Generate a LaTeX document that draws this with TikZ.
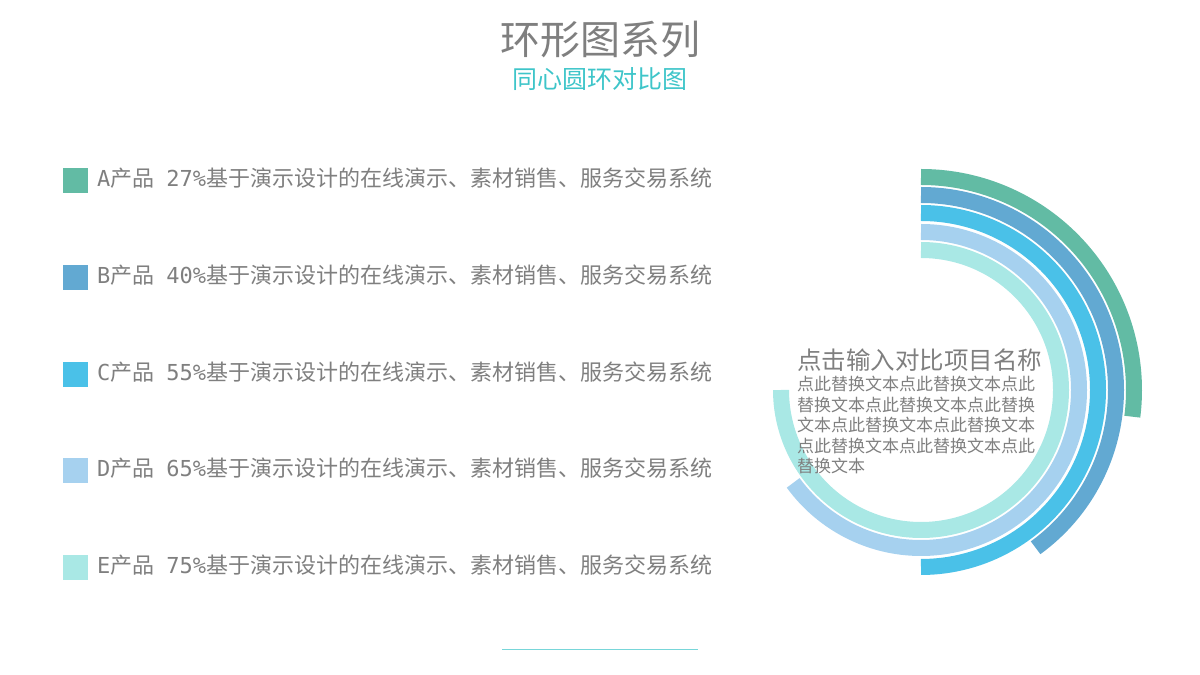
\documentclass[tikz,border=0pt]{standalone}
\usepackage{fontspec}
\setmainfont{Noto Sans CJK SC}
\newfontfamily\monof{DejaVu Sans Mono}
\definecolor{cA}{HTML}{62BBA4}
\definecolor{cB}{HTML}{62A9D2}
\definecolor{cC}{HTML}{4AC1E8}
\definecolor{cD}{HTML}{A6D1EF}
\definecolor{cE}{HTML}{A9E8E5}
\definecolor{tg}{HTML}{7F7F7F}
\definecolor{teal}{HTML}{3EC5C9}
\begin{document}
\begin{tikzpicture}[x=1pt,y=1pt,
  sq/.style={minimum width=25pt,minimum height=25pt,inner sep=0pt},
  lg/.style={anchor=west,text=tg,font=\fontsize{22}{22}\selectfont,inner sep=0pt},
  ring/.style={line width=16pt}]
\useasboundingbox (0,0) rectangle (1200,675);
\node[font=\fontsize{40}{40}\selectfont,text=tg] (t) at (600,635) {环形图系列};
\node[font=\fontsize{25}{25}\selectfont,text=teal] (s) at (600,596) {同心圆环对比图};
\draw[teal!70,line width=1pt] (502,25) -- (698,25);
\foreach \c/\l/\p/\y in {cA/A/27/494,cB/B/40/397,cC/C/55/300,cD/D/65/204,cE/E/75/107}{
  \node[sq,fill=\c] (q\l) at (75.5,\y) {};
  \node[lg] (l\l) at (97,\y+3) {{\monof\l}产品\hspace{12pt}{\monof\p\%}基于演示设计的在线演示、素材销售、服务交易系统};
}
\coordinate (o) at (921,285);
\foreach \c/\p/\r in {cA/27/213,cB/40/195,cC/50/177,cD/65/158,cE/75/140}{
  \draw[ring,\c] (o) ++(90:\r) arc[start angle=90,end angle={90-\p*3.6},radius=\r];
}
\node[anchor=west,text=tg,font=\fontsize{24.5}{24.5}\selectfont,inner sep=0pt] (h) at (797,315) {点击输入对比项目名称};
\node[anchor=north west,text=tg,font=\fontsize{17}{20.5}\selectfont,inner sep=0pt,text width=260pt,align=left] (b) at (797,299)
{点此替换文本点此替换文本点此\\替换文本点此替换文本点此替换\\文本点此替换文本点此替换文本\\点此替换文本点此替换文本点此\\替换文本};
\end{tikzpicture}
\end{document}
